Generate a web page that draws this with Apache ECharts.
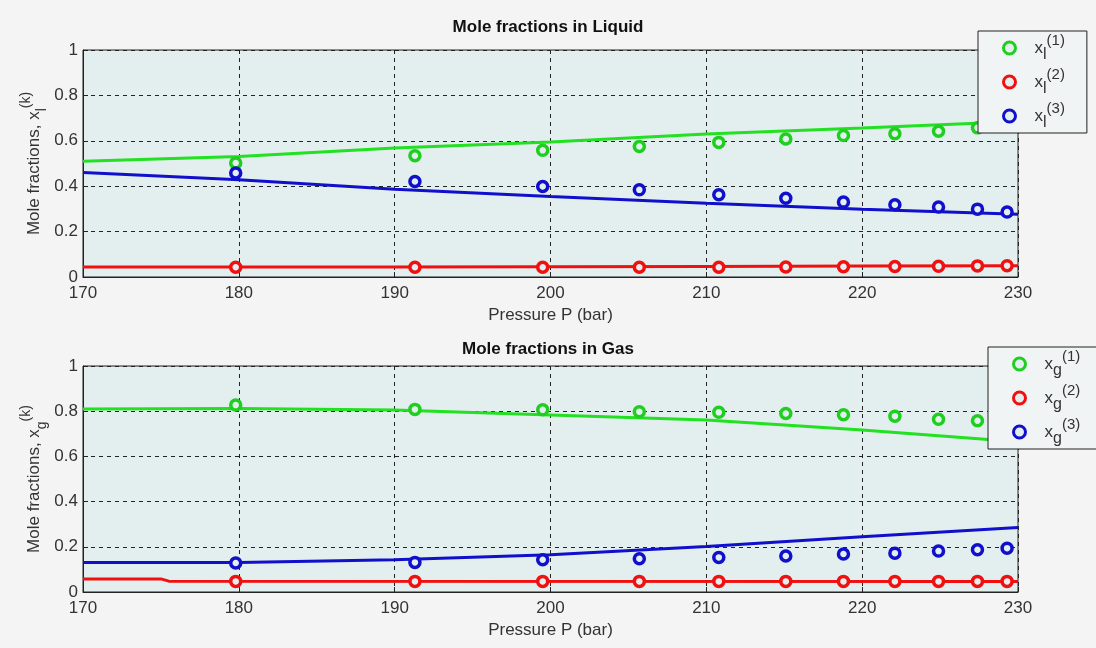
<!DOCTYPE html>
<html>
<head>
<meta charset="utf-8">
<script src="https://cdn.jsdelivr.net/npm/echarts@6/dist/echarts.min.js"></script>
<style>
  html, body { margin: 0; padding: 0; background: #f4f4f4; }
  #chart { width: 1096px; height: 648px; }
</style>
</head>
<body>
<div id="chart"></div>
<script>
// measured points (circles)
const pressure = [179.8, 191.3, 199.5, 205.7, 210.8, 215.1, 218.8, 222.1, 224.9, 227.4, 229.3];
const xl1Meas = [0.502, 0.534, 0.558, 0.575, 0.593, 0.608, 0.623, 0.631, 0.642, 0.657, 0.665];
const xl2Meas = [0.043, 0.043, 0.043, 0.043, 0.043, 0.044, 0.045, 0.046, 0.047, 0.049, 0.05];
const xl3Meas = [0.458, 0.421, 0.399, 0.384, 0.362, 0.347, 0.33, 0.318, 0.308, 0.299, 0.286];
const xg1Meas = [0.827, 0.808, 0.806, 0.798, 0.795, 0.79, 0.784, 0.778, 0.764, 0.758, 0.752];
const xg2Meas = [0.047, 0.047, 0.047, 0.047, 0.047, 0.047, 0.047, 0.047, 0.047, 0.047, 0.047];
const xg3Meas = [0.128, 0.131, 0.143, 0.147, 0.153, 0.159, 0.168, 0.172, 0.181, 0.187, 0.194];

// model curves (lines)
const modelP = [170, 180, 190, 200, 210, 220, 230];
const xl1Model = [0.51, 0.531, 0.568, 0.595, 0.63, 0.656, 0.685];
const xl2Model = [0.044, 0.044, 0.044, 0.045, 0.046, 0.048, 0.05];
const xl3Model = [0.46, 0.428, 0.387, 0.355, 0.325, 0.299, 0.276];
const xg1Model = [0.81, 0.812, 0.805, 0.783, 0.761, 0.717, 0.665];
const xg3Model = [0.131, 0.131, 0.143, 0.165, 0.201, 0.245, 0.285];
const xg2ModelP = [170, 175, 175.5, 230];
const xg2Model = [0.058, 0.058, 0.048, 0.047];

const yTicks = [0, 0.2, 0.4, 0.6, 0.8, 1];
const xTicks = [170, 180, 190, 200, 210, 220, 230];

const GREEN = "#22e022";
const GREEN_DOT = "#1fcf1f";
const RED = "#f01010";
const BLUE = "#1010cc";
const PLOT_BG = "#e3eeee";
const FONT = "Liberation Sans, Arial, sans-serif";

const pairs = (xs, ys) => xs.map((x, i) => [x, ys[i]]);

const chart = echarts.init(document.getElementById("chart"));

const nameRich = {
  t: { fontSize: 17, color: "#333", fontFamily: FONT, verticalAlign: "middle", lineHeight: 30 },
  x: { fontSize: 17, color: "#333", fontFamily: FONT, verticalAlign: "middle", lineHeight: 30 },
  sub: { fontSize: 14, color: "#333", fontFamily: FONT, verticalAlign: "bottom", lineHeight: 30 },
  sup: { fontSize: 14, color: "#333", fontFamily: FONT, verticalAlign: "top", lineHeight: 30 },
};

const xAxisBase = (gridIndex) => ({
  type: "value",
  gridIndex: gridIndex,
  min: xTicks[0],
  max: xTicks[xTicks.length - 1],
  interval: 10,
  name: "Pressure P (bar)",
  nameLocation: "middle",
  nameGap: 30,
  nameMoveOverlap: false,
  nameTextStyle: { fontSize: 17, color: "#333", fontFamily: FONT },
  axisLine: { show: true, lineStyle: { color: "#222", width: 1 } },
  axisTick: { show: true, inside: true, length: 5, lineStyle: { color: "#222" } },
  axisLabel: { fontSize: 17, color: "#333", fontFamily: FONT, margin: 8 },
  splitLine: { show: true, lineStyle: { color: "#222", type: [4, 4], width: 1 } },
});

const yAxisBase = (gridIndex, sub) => ({
  type: "value",
  gridIndex: gridIndex,
  min: yTicks[0],
  max: yTicks[yTicks.length - 1],
  interval: 0.2,
  name: "{t|Mole fractions, }{x|x}{sub|" + sub + "}{sup|(k)}",
  nameLocation: "middle",
  nameRotate: 90,
  nameGap: 34,
  nameMoveOverlap: false,
  nameTextStyle: { rich: nameRich },
  axisLine: { show: true, lineStyle: { color: "#222", width: 1 } },
  axisTick: { show: true, inside: true, length: 5, lineStyle: { color: "#222" } },
  axisLabel: { fontSize: 17, color: "#333", fontFamily: FONT, margin: 5 },
  splitLine: { show: true, lineStyle: { color: "#222", type: [4, 4], width: 1 } },
});

const lineSeries = (name, idx, xs, ys, color) => ({
  name: name,
  type: "line",
  xAxisIndex: idx,
  yAxisIndex: idx,
  data: pairs(xs, ys),
  showSymbol: false,
  symbol: "none",
  lineStyle: { color: color, width: 3, type: "solid" },
  z: 2,
});

const dotSeries = (name, idx, ys, color) => ({
  name: name,
  type: "scatter",
  xAxisIndex: idx,
  yAxisIndex: idx,
  data: pairs(pressure, ys),
  symbol: "circle",
  symbolSize: 10,
  itemStyle: { color: PLOT_BG, borderColor: color, borderWidth: 3.5, opacity: 1 },
  z: 3,
});

const legendBase = (names, left, top) => ({
  data: names,
  orient: "vertical",
  left: left,
  top: top,
  padding: [2, 22, 2, 24],
  itemGap: 4,
  itemWidth: 12,
  itemHeight: 12,
  itemStyle: { borderWidth: 3 },
  backgroundColor: "#f0f4f4",
  borderColor: "#222",
  borderWidth: 1,
  borderRadius: 0,
  selectedMode: false,
  formatter: (name) => {
    const parts = name.split("|");
    return "{x|x}{sub|" + parts[0] + "}{sup|(" + parts[1] + ")}";
  },
  textStyle: { rich: {
    x: { fontSize: 17, color: "#333", fontFamily: FONT, verticalAlign: "middle", lineHeight: 30, padding: [0, 0, 0, 14] },
    sub: { fontSize: 16, color: "#333", fontFamily: FONT, verticalAlign: "bottom", lineHeight: 30 },
    sup: { fontSize: 15, color: "#333", fontFamily: FONT, verticalAlign: "top", lineHeight: 30 },
  } },
});

const option = {
  backgroundColor: "#f4f4f4",
  animation: false,
  title: [
    { text: "Mole fractions in Liquid", left: "center", top: 14,
      textStyle: { fontSize: 17, fontWeight: "bold", color: "#111", fontFamily: FONT } },
    { text: "Mole fractions in Gas", left: "center", top: 336,
      textStyle: { fontSize: 17, fontWeight: "bold", color: "#111", fontFamily: FONT } },
  ],
  grid: [
    { left: 83, right: 78, top: 50, height: 227, show: true, backgroundColor: PLOT_BG, borderColor: "#222", borderWidth: 1 },
    { left: 83, right: 78, top: 366, height: 226, show: true, backgroundColor: PLOT_BG, borderColor: "#222", borderWidth: 1 },
  ],
  xAxis: [xAxisBase(0), xAxisBase(1)],
  yAxis: [yAxisBase(0, "l"), yAxisBase(1, "g")],
  legend: [
    legendBase(["l|1", "l|2", "l|3"], 978, 31),
    legendBase(["g|1", "g|2", "g|3"], 988, 347),
  ],
  series: [
    lineSeries("xl1 model", 0, modelP, xl1Model, GREEN),
    lineSeries("xl2 model", 0, modelP, xl2Model, RED),
    lineSeries("xl3 model", 0, modelP, xl3Model, BLUE),
    dotSeries("l|1", 0, xl1Meas, GREEN_DOT),
    dotSeries("l|2", 0, xl2Meas, RED),
    dotSeries("l|3", 0, xl3Meas, BLUE),
    lineSeries("xg1 model", 1, modelP, xg1Model, GREEN),
    lineSeries("xg2 model", 1, xg2ModelP, xg2Model, RED),
    lineSeries("xg3 model", 1, modelP, xg3Model, BLUE),
    dotSeries("g|1", 1, xg1Meas, GREEN_DOT),
    dotSeries("g|2", 1, xg2Meas, RED),
    dotSeries("g|3", 1, xg3Meas, BLUE),
  ],
};

chart.setOption(option);
</script>
</body>
</html>
